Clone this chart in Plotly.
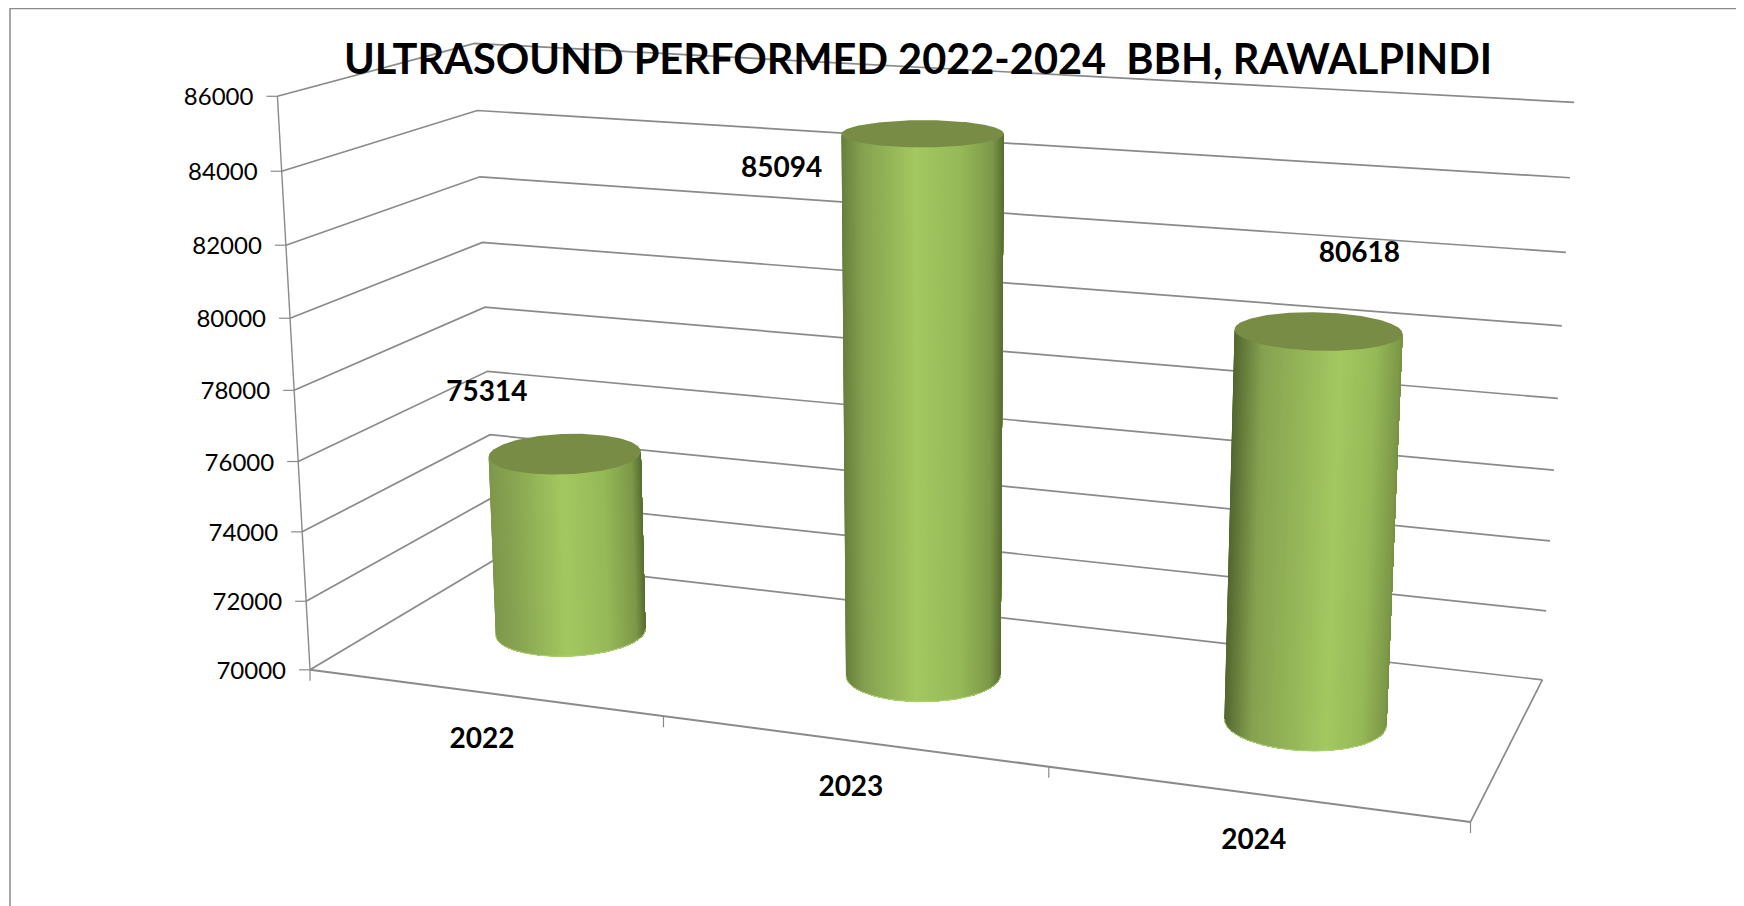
import numpy as np
import plotly.graph_objects as go

# ---- chart data ----
years = ["2022", "2023", "2024"]
values = [75314, 85094, 80618]
tick_values = [70000, 72000, 74000, 76000, 78000, 80000, 82000, 84000, 86000]
title_text = "ULTRASOUND PERFORMED 2022-2024  BBH, RAWALPINDI"

# ---- the view: where the corners of the 3-D plot box land on the page ----
# (category position 0..1, depth 0..1 front to back, value 0..1 of the axis) -> pixels
box_corners = [
    (0, 0, 0), (1, 0, 0), (1, 1, 0), (0, 1, 0),
    (0, 0, 1), (0, 1, 1), (1, 1, 1),
]
box_pixels = [
    (310, 670), (1471, 821), (1542, 681), (495, 559),
    (277, 97), (475, 43), (1574, 102),
]

rows, rhs = [], []
for (X, Y, Z), (px, py) in zip(box_corners, box_pixels):
    rows.append([X, Y, Z, 1, 0, 0, 0, 0, -px * X, -px * Y, -px * Z])
    rhs.append(px)
    rows.append([0, 0, 0, 0, X, Y, Z, 1, -py * X, -py * Y, -py * Z])
    rhs.append(py)
sol = np.linalg.lstsq(np.array(rows, float), np.array(rhs, float), rcond=None)[0]
P = np.append(sol, 1.0).reshape(3, 4)

V0, V1 = tick_values[0], tick_values[-1]


def project(u, v, val):
    """3-D plot position -> page position."""
    u, v, val = np.broadcast_arrays(np.asarray(u, float), np.asarray(v, float), np.asarray(val, float))
    w = (val - V0) / (V1 - V0)
    H = np.stack([u, v, w, np.ones_like(u)])
    q = P @ H.reshape(4, -1)
    return (q[0] / q[2]).reshape(u.shape), (q[1] / q[2]).reshape(u.shape)


GRID = "#8a8a8a"
fig = go.Figure()


def add_lines(segments, width=1.7, color=GRID):
    xs, ys = [], []
    for seg in segments:
        for pt in seg:
            xs.append(float(pt[0]))
            ys.append(float(pt[1]))
        xs.append(None)
        ys.append(None)
    fig.add_trace(go.Scatter(x=xs, y=ys, mode="lines", line=dict(color=color, width=width),
                             hoverinfo="skip", showlegend=False))


# gridlines on the side wall and on the back wall
walls = []
for t in tick_values[1:]:
    walls.append([project(0, 0, t), project(0, 1, t), project(1, 1, t)])
add_lines(walls)
# floor
add_lines([[project(0, 1, V0), project(1, 1, V0)],
           [project(0, 1, V0), project(0, 0, V0)],
           [project(1, 1, V0), project(1, 0, V0)]])
add_lines([[project(0, 0, V0), project(1, 0, V0)]], width=2)
# value axis with tick marks, category tick marks
add_lines([[project(0, 0, V0), project(0, 0, V1)]], width=1.4)
ticks = []
for t in tick_values:
    x0, y0 = project(0, 0, t)
    ticks.append([(x0, y0), (x0 - 11, y0)])
for i in range(len(years) + 1):
    x0, y0 = project(i / len(years), 0, V0)
    ticks.append([(x0, y0), (x0, y0 + 11)])
add_lines(ticks, width=1.2)

# ---- cylinders ----
bar_u = [0.1647, 0.4995, 0.8333]
bar_v = [0.5, 0.5, 0.5]
RU, RV = 0.066, 0.20
# light falls differently on each cylinder: left edge, brightest position, right edge
bar_left = [(125, 150, 75), (100, 125, 60), (75, 92, 42)]
bar_peak = [0.48, 0.45, 0.60]
bar_right = [(80, 100, 45), (85, 105, 48), (95, 120, 55)]
TOP = "#788c46"


def shade(s, left, peak, right):
    s = float(np.clip(s, 0, 1))
    a = [0, 0.3 * peak, peak, peak + (1 - peak) * 0.5, peak + (1 - peak) * 0.85, 1]
    cols = [left, (134, 162, 80), (163, 200, 96), (150, 185, 88), (125, 152, 72), right]
    c = [np.interp(s, a, [p[k] for p in cols]) for k in range(3)]
    return "rgb(%d,%d,%d)" % tuple(int(round(x)) for x in c)


for u0, v0, val, c_l, c_p, c_r in zip(bar_u, bar_v, values, bar_left, bar_peak, bar_right):
    theta = np.linspace(-np.pi * 1.3, np.pi * 0.3, 641)
    cu = u0 + RU * np.cos(theta)
    cv = v0 + RV * np.sin(theta)
    bx, by = project(cu, cv, V0)
    tx, ty = project(cu, cv, val)
    # keep the part of the wall that faces the viewer
    tang = np.gradient(bx) * (ty - by) - np.gradient(by) * (tx - bx)
    vis = tang > 0 if tang[320] > 0 else tang < 0
    idx = np.where(vis)[0]
    idx = np.arange(max(idx[0] - 1, 0), min(idx[-1] + 2, len(theta)))
    bx, by, tx, ty = bx[idx], by[idx], tx[idx], ty[idx]
    left, right = min(bx.min(), tx.min()), max(bx.max(), tx.max())
    n = len(idx)
    for k in list(range(0, n - 1, 4)):
        s = ((bx[k] + tx[k]) / 2 - left) / (right - left)
        xs = np.concatenate([tx[k:], bx[k:][::-1], [tx[k]]])
        ys = np.concatenate([ty[k:], by[k:][::-1], [ty[k]]])
        fig.add_trace(go.Scatter(x=xs, y=ys, mode="lines", fill="toself",
                                 fillcolor=shade(s, c_l, c_p, c_r),
                                 line=dict(width=0), hoverinfo="skip", showlegend=False))
    # bottom rim highlight
    fig.add_trace(go.Scatter(x=bx, y=by, mode="lines", line=dict(color="#b4d27a", width=1),
                             hoverinfo="skip", showlegend=False))
    # top cap
    a = np.linspace(0, 2 * np.pi, 181)
    capx, capy = project(u0 + RU * np.cos(a), v0 + RV * np.sin(a), val)
    fig.add_trace(go.Scatter(x=capx, y=capy, mode="lines", fill="toself", fillcolor=TOP,
                             line=dict(width=0), hoverinfo="skip", showlegend=False))

# ---- text ----
LABEL_FONT = "Lato"
tx, ty = [], []
for t in tick_values:
    x0, y0 = project(0, 0, t)
    tx.append(float(x0) - 24)
    ty.append(float(y0) + 3)
fig.add_trace(go.Scatter(x=tx, y=ty, mode="text", text=[str(t) for t in tick_values],
                         textposition="middle left", cliponaxis=False,
                         textfont=dict(family=LABEL_FONT, size=24, color="#000000"),
                         hoverinfo="skip", showlegend=False))

cx, cy = [], []
for i in range(len(years)):
    x0, y0 = project((i + 0.5) / len(years), 0, V0)
    cx.append(float(x0) - 1)
    cy.append(float(y0) + 48)
fig.add_trace(go.Scatter(x=cx, y=cy, mode="text", text=years, textposition="middle center",
                         textfont=dict(family=LABEL_FONT, size=28, color="#000000", weight="bold"),
                         hoverinfo="skip", showlegend=False))

label_offset = [(-78, -60), (-141, 37), (41, -76)]
lx, ly = [], []
for u0, v0, val, (dx, dy) in zip(bar_u, bar_v, values, label_offset):
    x0, y0 = project(u0, v0, val)
    lx.append(float(x0) + dx)
    ly.append(float(y0) + dy)
fig.add_trace(go.Scatter(x=lx, y=ly, mode="text", text=[str(v) for v in values],
                         textposition="middle center",
                         textfont=dict(family=LABEL_FONT, size=28, color="#000000", weight="bold"),
                         hoverinfo="skip", showlegend=False))

# the page has an 8 px body margin, so the figure covers page pixels 8..1744 and 8..906
fig.update_layout(
    width=1736, height=898, margin=dict(l=0, r=0, t=0, b=0),
    paper_bgcolor="#ffffff", plot_bgcolor="#ffffff", showlegend=False,
    title=dict(text=title_text, x=(918 - 8) / 1736, xanchor="center", y=1 - (59 - 8) / 898, yanchor="middle",
               font=dict(family=LABEL_FONT, size=41.5, color="#000000", weight="bold")),
    xaxis=dict(range=[8, 1744], visible=False, fixedrange=True),
    yaxis=dict(range=[906, 8], visible=False, fixedrange=True),
    shapes=[dict(type="line", x0=10, x1=1744, y0=8.5, y1=8.5, line=dict(color="#8a8a8a", width=1.5)),
            dict(type="line", x0=10, x1=10, y0=8, y1=906, line=dict(color="#8a8a8a", width=1.5))],
)
fig.write_html("out.html")
